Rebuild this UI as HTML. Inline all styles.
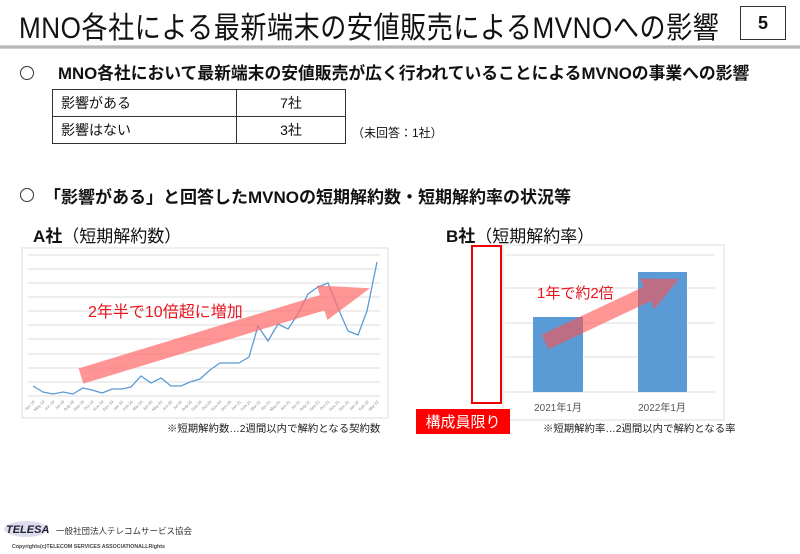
<!DOCTYPE html>
<html><head><meta charset="utf-8">
<style>
html,body{margin:0;padding:0;background:#fff;}
body{width:800px;height:554px;position:relative;overflow:hidden;font-family:"Liberation Sans","Noto Sans CJK JP",sans-serif;color:#111;}
.a{position:absolute;white-space:nowrap;}
.c{position:absolute;width:12px;height:12px;border:1.3px solid #333;border-radius:50%;}
</style></head><body>
<div class="a" style="left:19px;top:3px;font-size:30px;letter-spacing:0.6px;transform:scaleX(0.87);transform-origin:left;">MNO各社による最新端末の安値販売によるMVNOへの影響</div>
<div class="a" style="left:740px;top:6px;width:44px;height:32px;border:1px solid #333;background:#fff;text-align:center;line-height:32px;font-size:18px;font-weight:bold;">5</div>
<div class="a" style="left:0;top:45px;width:800px;height:4px;background:linear-gradient(#ddd,#aaa,#ddd);"></div>
<div class="c" style="left:20px;top:66px;"></div>
<div class="a" style="left:58px;top:60px;font-size:16.8px;font-weight:bold;">MNO各社において最新端末の安値販売が広く行われていることによるMVNOの事業への影響</div>
<table class="a" style="left:52px;top:89px;border-collapse:collapse;font-size:14px;">
<tr><td style="border:1px solid #333;width:175px;height:26px;padding:0 0 0 8px;">影響がある</td><td style="border:1px solid #333;width:106px;text-align:center;">7社</td></tr>
<tr><td style="border:1px solid #333;height:26px;padding:0 0 0 8px;">影響はない</td><td style="border:1px solid #333;text-align:center;">3社</td></tr>
</table>
<div class="a" style="left:352px;top:124px;font-size:12px;">（未回答：1社）</div>
<div class="c" style="left:20px;top:188px;"></div>
<div class="a" style="left:44px;top:183px;font-size:17px;font-weight:bold;">「影響がある」と回答したMVNOの短期解約数・短期解約率の状況等</div>
<div class="a" style="left:33px;top:222px;font-size:17px;"><b>A社</b>（短期解約数）</div>
<div class="a" style="left:446px;top:222px;font-size:17px;"><b>B社</b>（短期解約率）</div>

<svg class="a" style="left:0;top:0;" width="800" height="554" font-family="Liberation Sans, Noto Sans CJK JP, sans-serif">
<rect x="22" y="248" width="366" height="170" fill="#fff" stroke="#ddd"/>
<g stroke="#ddd" stroke-width="1">
<line x1="28" x2="380" y1="255" y2="255"/><line x1="28" x2="380" y1="269" y2="269"/><line x1="28" x2="380" y1="283" y2="283"/><line x1="28" x2="380" y1="297" y2="297"/><line x1="28" x2="380" y1="311" y2="311"/><line x1="28" x2="380" y1="325" y2="325"/><line x1="28" x2="380" y1="339" y2="339"/><line x1="28" x2="380" y1="354" y2="354"/><line x1="28" x2="380" y1="368" y2="368"/><line x1="28" x2="380" y1="382" y2="382"/><line x1="28" x2="380" y1="396" y2="396"/>
</g>
<polyline fill="none" stroke="#5b9bd5" stroke-width="1.3" points="33,386 43,392 53,394 63,392 73,394 83,388 92,390 102,393 112,389 122,389 131,387 141,376 151,383 161,378 171,386 181,386 190,382 200,379 210,370 220,363 230,363 239,363 249,357 258,326 268,341 278,324 288,329 298,314 308,294 318,287 328,283 338,308 348,331 358,335 367,311 377,262"/>
<g font-size="4" fill="#888" id="lbls"></g>
<g transform="translate(81,376) rotate(-16.9)"><polygon points="0,-8 252,-8 252,-18 302,0 252,18 252,8 0,8" fill="#ff7070" fill-opacity="0.75"/></g>
<text x="88" y="317" font-size="16" fill="#e8141e">2年半で10倍超に増加</text>
<text x="167" y="432" font-size="10.4" fill="#222">※短期解約数…2週間以内で解約となる契約数</text>

<rect x="503" y="245" width="221" height="175" fill="#fff" stroke="#ddd"/>
<g stroke="#ddd"><line x1="505" x2="715" y1="255" y2="255"/><line x1="505" x2="715" y1="288" y2="288"/><line x1="505" x2="715" y1="323" y2="323"/><line x1="505" x2="715" y1="357" y2="357"/><line x1="505" x2="715" y1="392" y2="392"/></g>
<rect x="533" y="317" width="50" height="75" fill="#5b9bd5"/>
<rect x="638" y="272" width="49" height="120" fill="#5b9bd5"/>
<text x="558" y="411" font-size="10" fill="#555" text-anchor="middle">2021年1月</text>
<text x="662" y="411" font-size="10" fill="#555" text-anchor="middle">2022年1月</text>
<g transform="translate(545,342) rotate(-25.2)"><polygon points="0,-8 113,-8 113,-17 148,0 113,17 113,8 0,8" fill="#ff5050" fill-opacity="0.6"/></g>
<text x="537" y="298" font-size="15" fill="#e8141e">1年で約2倍</text>
<rect x="472" y="246" width="29" height="157" fill="none" stroke="#e00" stroke-width="2"/>
<rect x="416" y="409" width="94" height="25" fill="#f00"/>
<text x="463" y="427" font-size="15" fill="#fff" text-anchor="middle">構成員限り</text>
<text x="543" y="432" font-size="10.4" fill="#222">※短期解約率…2週間以内で解約となる率</text>

<ellipse cx="26" cy="529" rx="22" ry="8" fill="#dde" />
<text x="6" y="533" font-size="11" font-weight="bold" fill="#223" font-style="italic">TELESA</text>
<text x="56" y="534" font-size="8.5" fill="#333">一般社団法人テレコムサービス協会</text>
<text x="12" y="548" font-size="5.3" fill="#444" font-weight="bold">Copyrights(c)TELECOM SERVICES ASSOCIATIONALLRights</text>
</svg>
<script>
var m=["Apr","May","Jun","Jul","Aug","Sep","Oct","Nov","Dec","Jan","Feb","Mar"],g=document.getElementById("lbls"),s="";
for(var i=0;i<36;i++){var y=19+Math.floor((i+3)/12);var x=33+i*9.83;s+='<text transform="translate('+(x+2)+',402) rotate(-45)" text-anchor="end">'+m[i%12]+'-'+y+'</text>';}
g.innerHTML=s;
</script>
</body></html>
